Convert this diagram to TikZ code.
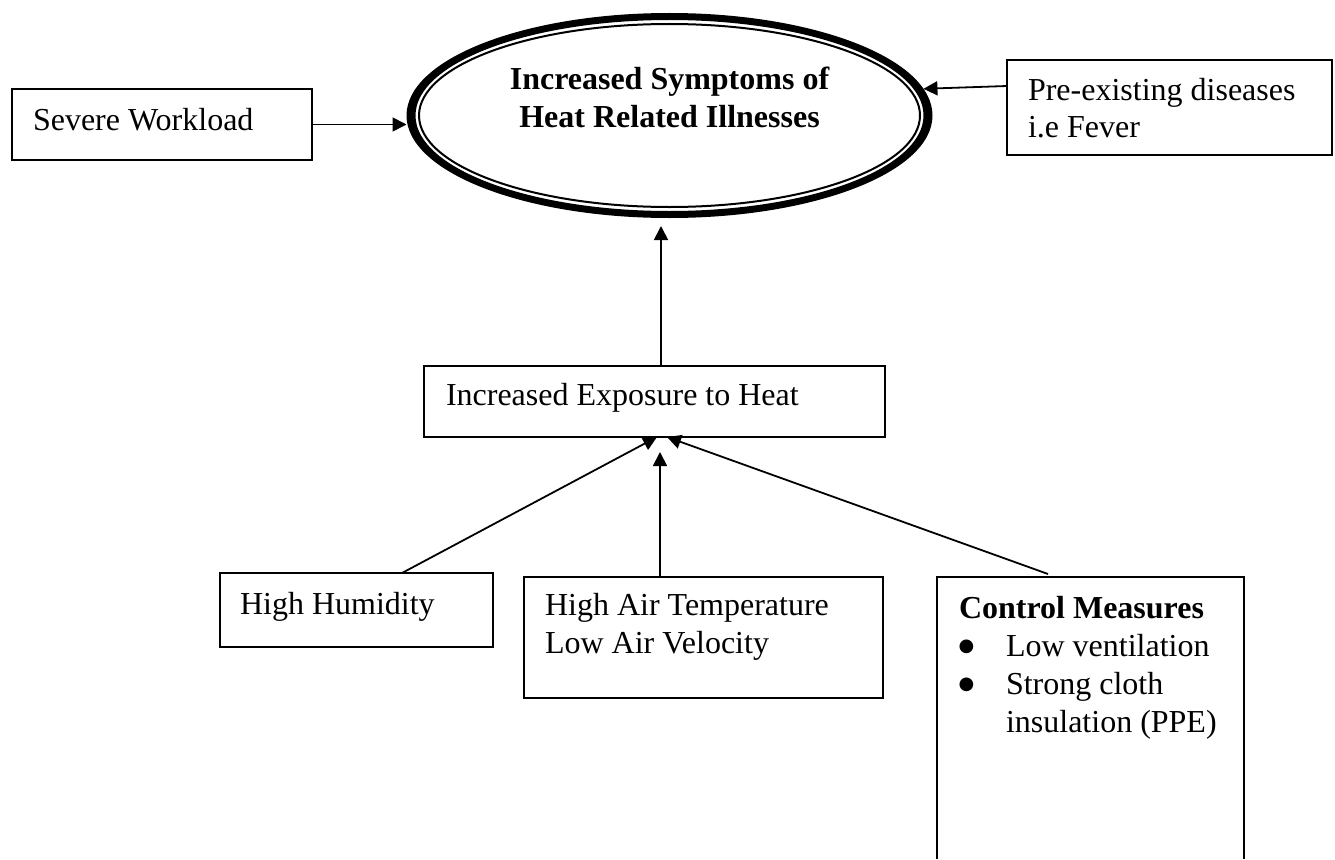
\documentclass[tikz,border=0pt]{standalone}
\usepackage{fontspec}
\setmainfont{Liberation Serif}
\newfontfamily\dejavu{DejaVu Sans}
\usetikzlibrary{arrows.meta,shapes.geometric}
\tikzset{
  boxline/.style={line width=1.6pt},
  box/.style={draw, boxline, inner sep=0pt, outer sep=0pt, anchor=north west},
  blank/.style={inner sep=0pt, outer sep=0pt, anchor=north west},
  txt/.style={inner sep=0pt, outer sep=0pt, anchor=base west, font=\fontsize{32}{38}\selectfont},
  btxt/.style={inner sep=0pt, outer sep=0pt, anchor=base, font=\fontsize{32}{38}\selectfont\bfseries},
  bullet/.style={inner sep=0pt, outer sep=0pt, anchor=base west, font=\dejavu\fontsize{18}{18}\selectfont},
  arr/.style={line width=1.8pt, -{Triangle[length=14pt,width=14pt]}},
}
\begin{document}
\begin{tikzpicture}[x=1pt,y=-1pt]
\useasboundingbox (0,0) rectangle (1335,859);

% central ellipse
\node[ellipse, minimum width=526pt, minimum height=205pt, inner sep=0pt, outer sep=0pt] (ell) at (669.5,115.5) {};
\fill[even odd rule] (ell.center) ellipse [x radius=263pt, y radius=102.5pt]
                     (ell.center) ellipse [x radius=254pt, y radius=95.5pt];
\draw[line width=2pt] (ell.center) ellipse [x radius=250.5pt, y radius=91.5pt];
\node[btxt] (ellt1) at (669.5,89) {Increased Symptoms of};
\node[btxt] (ellt2) at (669.5,127) {Heat Related Illnesses};

% boxes
\node[box, minimum width=300pt, minimum height=71pt] (sw) at (12,89) {};
\node[txt] (swt) at (33,130) {Severe Workload};

\node[box, minimum width=325pt, minimum height=95pt] (pd) at (1007,60) {};
\node[txt] (pdt1) at (1028,100) {Pre-existing diseases};
\node[txt] (pdt2) at (1028,137) {i.e Fever};

\node[box, minimum width=461pt, minimum height=71pt] (ex) at (424,366) {};
\node[txt] (ext) at (446,405) {Increased Exposure to Heat};

\node[box, minimum width=273pt, minimum height=74pt] (hh) at (220,573) {};
\node[txt] (hht) at (240,614) {High Humidity};

\node[box, minimum width=359pt, minimum height=121pt] (ha) at (524,577) {};
\node[txt] (hat1) at (545,615) {High Air Temperature};
\node[txt] (hat2) at (545,653) {Low Air Velocity};

\node[blank, minimum width=307pt, minimum height=282pt] (cm) at (937,577) {};
\draw[boxline] (cm.south west) -- (cm.north west) -- (cm.north east) -- (cm.south east);
\node[txt, font=\fontsize{32}{38}\selectfont\bfseries] (cmt) at (959,618) {Control Measures};
\node[bullet] (cmb1) at (958.5,651) {●};
\node[bullet] (cmb2) at (958.5,689) {●};
\node[txt] (cmt1) at (1006,656) {Low ventilation};
\node[txt] (cmt2) at (1006,694) {Strong cloth};
\node[txt] (cmt3) at (1006,732) {insulation (PPE)};

% connectors
\coordinate (topgap) at (661,226);
\draw[arr] (sw.east) -- (ell.west |- sw.east);
\draw[arr] ([yshift=21.5pt]pd.west) -- (ell.6);
\draw[arr] ([xshift=6.5pt]ex.north) -- (topgap);
\draw[arr] ([xshift=45.5pt]hh.north) -- ([xshift=2.5pt]ex.south);
\draw[arr] ([xshift=-43.5pt]ha.north) -- ([xshift=5.5pt,yshift=-15pt]ex.south);
\draw[arr] ([xshift=-42.5pt,yshift=3pt]cm.north) -- ([xshift=12.5pt]ex.south);
\end{tikzpicture}
\end{document}
